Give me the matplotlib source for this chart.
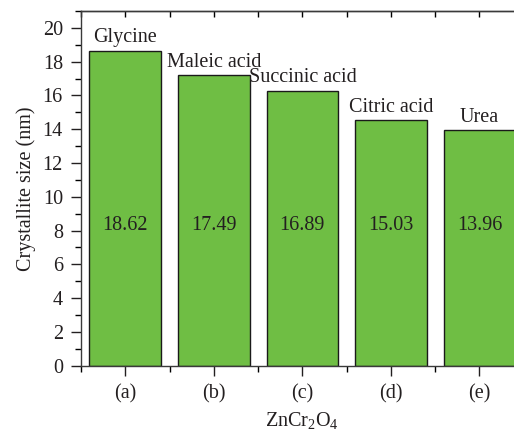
import matplotlib.pyplot as plt
from matplotlib.ticker import MultipleLocator

plt.rcParams['font.family'] = ['Liberation Serif', 'DejaVu Serif']
plt.rcParams['mathtext.fontset'] = 'custom'
plt.rcParams['mathtext.rm'] = 'Liberation Serif'
plt.rcParams['mathtext.it'] = 'Liberation Serif:italic'

categories = ["(a)", "(b)", "(c)", "(d)", "(e)"]
fuels = ["Glycine", "Maleic acid", "Succinic acid", "Citric acid", "Urea"]
# bar heights as drawn, and the numbers printed inside the bars
heights = [18.65, 17.21, 16.28, 14.55, 13.93]
printed = ["18.62", "17.49", "16.89", "15.03", "13.96"]

fs = 14.5
ink = "#231f20"

fig = plt.figure(figsize=(5.14, 4.30), dpi=100)
ax = fig.add_axes([0.1576, 0.1495, 0.8614, 0.825])

x = list(range(len(categories)))
ax.bar(x, heights, width=0.81, color="#6fbe44", edgecolor="#1a1a1a", linewidth=1.0)

for xi, h, name, val in zip(x, heights, fuels, printed):
    ax.annotate(name, (xi, h), xytext=(0, 6), textcoords="offset points",
                ha="center", va="baseline", fontsize=fs, color=ink)
    ax.text(xi, 8.3, val, ha="center", va="center", fontsize=fs, color=ink)

ax.set_xlim(-0.5, 4.5)
ax.set_ylim(0, 21)
ax.set_xticks(x)
ax.set_xticklabels(categories)
ax.xaxis.set_minor_locator(MultipleLocator(0.5))
ax.yaxis.set_major_locator(MultipleLocator(2))
ax.yaxis.set_minor_locator(MultipleLocator(1))

ax.tick_params(axis="both", which="major", direction="out", length=7, width=1,
               labelsize=fs, colors=ink)
ax.tick_params(axis="both", which="minor", direction="out", length=4, width=1)
ax.tick_params(axis="y", which="major", pad=6)
ax.tick_params(axis="x", which="major", pad=6)

for s in ax.spines.values():
    s.set_linewidth(1.0)
    s.set_color("#3a3a3a")

# inward ticks along the top edge at every half step
top = ax.secondary_xaxis("top")
top.set_xticks([i * 0.5 - 0.5 for i in range(11)])
top.tick_params(direction="in", length=4, width=1, labeltop=False)
top.spines["top"].set_linewidth(1.0)
top.spines["top"].set_color("#3a3a3a")

ax.set_ylabel("Crystallite size (nm)", fontsize=fs, color=ink, labelpad=5)
ax.set_xlabel(r"ZnCr$_2$O$_4$", fontsize=fs, color=ink, labelpad=5)

fig.savefig("out.png", dpi=100)
